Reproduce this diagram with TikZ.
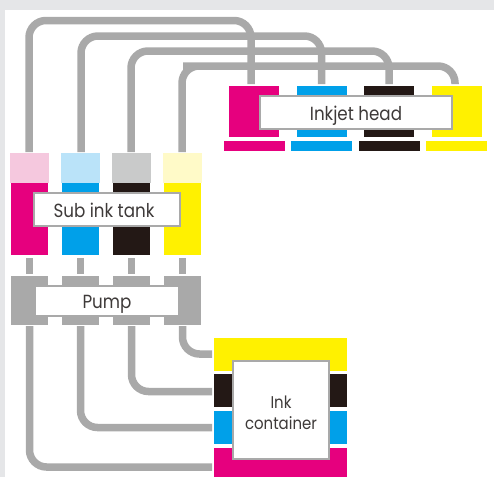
\documentclass[tikz,border=0pt]{standalone}
\usepackage{fontspec}
\setmainfont[FakeStretch=0.88]{Poppins}
\definecolor{inkmagenta}{HTML}{E6007E}
\definecolor{inkcyan}{HTML}{00A0E9}
\definecolor{inkblack}{HTML}{231815}
\definecolor{inkyellow}{HTML}{FFF100}
\definecolor{palemagenta}{HTML}{F5C8DE}
\definecolor{palecyan}{HTML}{BAE3F9}
\definecolor{paleblack}{HTML}{C9CACA}
\definecolor{paleyellow}{HTML}{FFFAC8}
\definecolor{tubegray}{HTML}{A9A9A9}
\definecolor{pagegray}{HTML}{E5E6E8}
\definecolor{textgray}{HTML}{3E3A39}
\begin{document}
\begin{tikzpicture}
			[x=1pt,y=-1pt,
			%Styles
			tube/.style={line width=7.5pt,tubegray,rounded corners=17pt},
			block/.style={anchor=north west,inner sep=0pt,outer sep=0pt,minimum width=#1},
			tank/.style={block=37pt,minimum height=72pt},
			pale/.style={block=39pt,minimum height=30pt},
			headblock/.style={block=50pt,minimum height=51pt},
			headbar/.style={block=61pt,minimum height=10pt},
			pumpblock/.style={block=37pt,minimum height=49pt,fill=tubegray},
			stripe/.style={block=133pt,minimum height=33pt},
			label box/.style={draw=tubegray,line width=1.2pt,fill=white,inner sep=0pt,outer sep=0pt,
				text=textgray,font=\fontsize{19}{22}\selectfont,align=center},
			one line/.style={text height=15pt,text depth=0pt}
			]
			
			%The page
			\fill[pagegray] (0,0) rectangle (494,477);
			\fill[white] (5,10) rectangle (494,477);
			\useasboundingbox (0,0) rectangle (494,477);
			
			%Sub ink tank
			\node[pale,fill=palemagenta] (paleM) at (10,153) {};
			\node[pale,fill=palecyan] (paleC) at (61,153) {};
			\node[pale,fill=paleblack] (paleK) at (112,153) {};
			\node[pale,fill=paleyellow] (paleY) at (163,153) {};
			\node[tank,fill=inkmagenta] (tankM) at (11,183) {};
			\node[tank,fill=inkcyan] (tankC) at (62,183) {};
			\node[tank,fill=inkblack] (tankK) at (113,183) {};
			\node[tank,fill=inkyellow] (tankY) at (164,183) {};
			\node[label box,one line,minimum width=146pt,minimum height=33pt] (subtank) at (107,209.5) {Sub ink tank\hspace{6pt}};
			
			%Pump
			\node[pumpblock] (pumpM) at (11,276) {};
			\node[pumpblock] (pumpC) at (62,276) {};
			\node[pumpblock] (pumpK) at (113,276) {};
			\node[pumpblock] (pumpY) at (164,276) {};
			\node[label box,one line,minimum width=144pt,minimum height=30pt] (pump) at (107,301) {Pump};
			
			%Inkjet head
			\node[headblock,fill=inkmagenta] (headM) at (229,86) {};
			\node[headblock,fill=inkcyan] (headC) at (297,86) {};
			\node[headblock,fill=inkblack] (headK) at (364,86) {};
			\node[headblock,fill=inkyellow] (headY) at (432,86) {};
			\node[headbar,fill=inkmagenta] (barM) at (224,141) {};
			\node[headbar,fill=inkcyan] (barC) at (291,141) {};
			\node[headbar,fill=inkblack] (barK) at (359,141) {};
			\node[headbar,fill=inkyellow] (barY) at (426,141) {};
			\node[label box,one line,minimum width=192pt,minimum height=33pt] (head) at (356,112.5) {Inkjet head};
			
			%Ink container
			\node[stripe,fill=inkyellow] (contY) at (214,338) {};
			\node[stripe,fill=inkblack] (contK) at (214,374) {};
			\node[stripe,fill=inkcyan] (contC) at (214,411) {};
			\node[stripe,fill=inkmagenta,minimum height=29pt] (contM) at (214,448) {};
			\node[label box,minimum width=96pt,minimum height=98pt,font=\fontsize{17}{21.5}\selectfont] (container) at (281,410) {\rule{0pt}{18pt}Ink\\container};
			
			%Tubes up to the head
			\coordinate (rowM) at (200,20.5);
			\coordinate (rowC) at (200,36);
			\coordinate (rowK) at (200,51);
			\coordinate (rowY) at (200,66);
			\draw[tube,shorten <=1pt,shorten >=2pt] ([xshift=-.5pt]paleM.north) |- (rowM) -| ([xshift=-3pt]headM.north);
			\draw[tube,shorten <=1pt,shorten >=2pt] ([xshift=.5pt]paleC.north) |- (rowC) -| ([xshift=-.5pt]headC.north);
			\draw[tube,shorten <=1pt,shorten >=2pt] ([xshift=-.5pt]paleK.north) |- (rowK) -| (headK.north);
			\draw[tube,shorten <=1pt,shorten >=2pt] ([xshift=-.5pt]paleY.north) |- (rowY) -| ([xshift=-2pt]headY.north);
			
			%Tubes from the tanks to the pump
			\draw[tube,shorten <=3pt,shorten >=2pt] (tankM.south) -- (pumpM.north);
			\draw[tube,shorten <=3pt,shorten >=2pt] (tankC.south) -- (pumpC.north);
			\draw[tube,shorten <=3pt,shorten >=2pt] (tankK.south) -- (pumpK.north);
			\draw[tube,shorten <=3pt,shorten >=2pt] (tankY.south) -- (pumpY.north);
			
			%Tubes from the container to the pump
			\draw[tube,shorten <=2pt,shorten >=1pt] ([yshift=-4.5pt]contM.west) -| (pumpM.south);
			\draw[tube,shorten <=2pt,shorten >=1pt] (contC.west) -| (pumpC.south);
			\draw[tube,shorten <=2pt,shorten >=1pt] ([yshift=-1pt]contK.west) -| (pumpK.south);
			\draw[tube,shorten <=2pt,shorten >=1pt] ([yshift=.5pt]contY.west) -| (pumpY.south);
		\end{tikzpicture}
\end{document}
